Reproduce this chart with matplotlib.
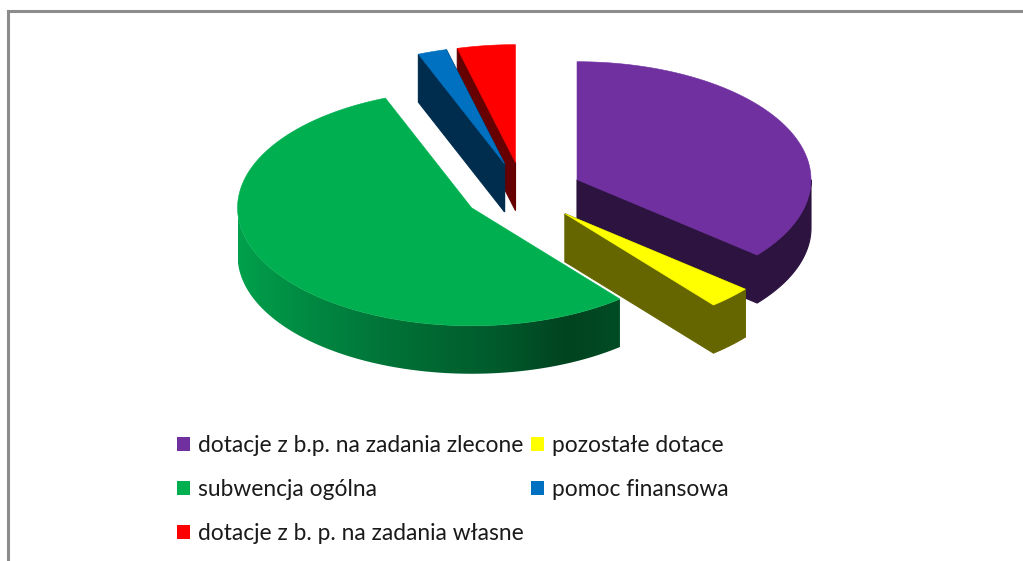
# -*- coding: utf-8 -*-
import numpy as np
import matplotlib
matplotlib.use('Agg')
import matplotlib.pyplot as plt
from matplotlib.colors import LinearSegmentedColormap
from matplotlib.patches import Polygon, Patch

#data, share of income in percent, clockwise from 12 o'clock
labels=['dotacje z b.p. na zadania zlecone','pozostałe dotace','subwencja ogólna','pomoc finansowa','dotacje z b. p. na zadania własne']
values=[36.0,3.05,54.9,2.0,4.0]
colours=['#7030A0','#FFFF00','#00B050','#0070C0','#FF0000']
side_colours=['#2D1340','#666600',None,'#002D4D','#660000']

#fake 3d geometry, in pixels of the output image
cx,cy=523,192.5
rx,ry=234,118
depth=48
explode=0.255

fig=plt.figure(figsize=(10.23,5.61),dpi=100)
ax=fig.add_axes([0,0,1,1])

#frame of the pasted chart, only top and left are visible
ax.plot([8,8,1023],[561,11,11],color='#8c8c8c',lw=2.2,solid_joinstyle='miter',zorder=0)

green_side=LinearSegmentedColormap.from_list('green_side',
    [(0,'#00A04C'),(0.16,'#008C43'),(0.42,'#007036'),(0.68,'#005A2C'),(0.86,'#00431F'),(1,'#004C25')])


def ell(a,ox,oy):
    #a is clockwise from the top, in radians
    return ox+rx*np.sin(a),oy-ry*np.cos(a)


def draw_slice(i,a0,a1,z):
    mid=(a0+a1)/2
    ox=cx+explode*rx*np.sin(mid)
    oy=cy-explode*ry*np.cos(mid)
    a=np.linspace(a0,a1,int(np.degrees(a1-a0)*2)+4)
    #keep the widest points of the ellipse so the rim starts level with the top
    for turn in [np.pi/2,3*np.pi/2]:
        if a0<turn<a1:
            a=np.union1d(a,[turn])
    x,y=ell(a,ox,oy)
    side=side_colours[i]

    #rim, only the part of the arc facing the viewer
    front=np.cos(a)<=1e-9
    xr,yr=x[front],y[front]
    pts=list(zip(xr,yr))+list(zip(xr[::-1],yr[::-1]+depth))
    if side is None:
        #gradient along x, clipped to the rim
        rim=Polygon(pts,closed=True,fc='none',ec='none',transform=ax.transData)
        ax.add_patch(rim)
        im=ax.imshow(np.linspace(0,1,256)[None,:],cmap=green_side,aspect='auto',zorder=z,
            extent=(xr.min(),xr.max(),yr.max()+depth,yr.min()),interpolation='bilinear')
        im.set_clip_path(rim)
    else:
        if len(xr)>1:
            ax.add_patch(Polygon(pts,closed=True,fc=side,ec=side,lw=0.8,zorder=z))
        #cut walls, a wall seen edge-on is skipped
        for xe,ye in [(x[0],y[0]),(x[-1],y[-1])]:
            if abs(xe-ox)<1:
                continue
            q=[(ox,oy),(xe,ye),(xe,ye+depth),(ox,oy+depth)]
            ax.add_patch(Polygon(q,closed=True,fc=side,ec=side,lw=0.8,zorder=z))

    #top face
    pts=[(ox,oy)]+list(zip(x,y))
    ax.add_patch(Polygon(pts,closed=True,fc=colours[i],ec=colours[i],lw=0.4,zorder=z+0.05))


shares=np.array(values)/np.sum(values)*2*np.pi
edges=np.concatenate(([0],np.cumsum(shares)))

#back slices first, blue covers the red wall, green goes over yellow
for z,i in enumerate([4,3,0,1,2]):
    draw_slice(i,edges[i],edges[i+1],5+z)

ax.set_xlim(0,1023)
ax.set_ylim(561,0)
ax.axis('off')

handles=[Patch(fc=c,ec='none') for c in colours]
order=[0,2,4,1,3]
ax.legend([handles[i] for i in order],[labels[i] for i in order],ncol=2,frameon=False,
    loc='upper left',bbox_to_anchor=(172.5/1023,1-430/561),prop={'family':'Lato','size':16.35},
    handlelength=0.57,handleheight=0.57,handletextpad=0.35,columnspacing=0.33,labelspacing=1.02,
    borderpad=0.2,borderaxespad=0,labelcolor='#1a1a1a')

fig.savefig('out.png',dpi=100)
